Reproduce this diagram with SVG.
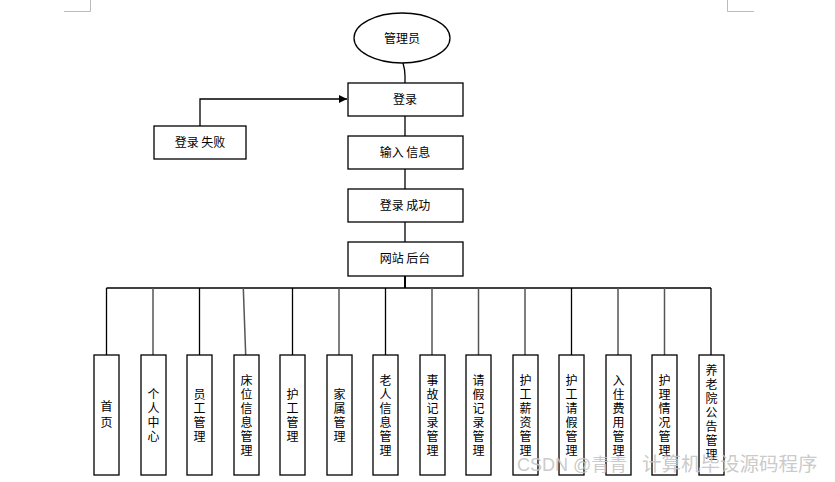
<svg xmlns="http://www.w3.org/2000/svg" width="835" height="482" viewBox="0 0 835 482">
<defs>
<style>
.n{fill:#fff;stroke:#000;stroke-width:1.3}
.t{font-family:"Noto Sans CJK SC","Liberation Sans",sans-serif;font-size:12px;fill:#000;text-anchor:middle}
.v{font-family:"Noto Sans CJK SC","Liberation Sans",sans-serif;font-size:12px;fill:#000;text-anchor:middle;writing-mode:vertical-rl;letter-spacing:2px}
.c{fill:none;stroke:#000;stroke-width:1.3}
.g{fill:none;stroke:#555;stroke-width:1.5}
.m{fill:none;stroke:#bbb;stroke-width:1}
</style>
<marker id="arr" viewBox="0 0 10 10" refX="10" refY="5" markerWidth="8" markerHeight="8" markerUnits="userSpaceOnUse" orient="auto">
<path d="M0,0 L10,5 L0,10 z" fill="#000"/>
</marker>
</defs>
<rect width="835" height="482" fill="#fff"/>
<path class="m" d="M64,11.5 H90.5 V0 M727.5,0 V11.5 H754"/>
<g id="connectors">
<path class="c" d="M403,63 Q405,70 405,76 V83"/>
<path class="c" d="M200,126 V99 H347" marker-end="url(#arr)"/>
<path class="c" d="M405,116 V136"/>
<path class="c" d="M405,169 V189"/>
<path class="c" d="M405,222 V242"/>
<path class="c" d="M405,276 V288" style="stroke-width:2"/>
<path class="c" d="M106.5,288 H711"/>
<path class="c" d="M106.5,288 V355"/>
<path class="g" d="M153,288 V355"/>
<path class="c" d="M199.5,288 V355"/>
<path class="g" d="M243.3,288 L245.7,355"/>
<path class="c" d="M292.5,288 V355"/>
<path class="g" d="M339,288 V355"/>
<path class="c" d="M385.5,288 V355"/>
<path class="g" d="M432,288 V355"/>
<path class="g" d="M478.5,288 V355"/>
<path class="g" d="M525,288 V355"/>
<path class="c" d="M571.5,288 V355"/>
<path class="g" d="M618,288 V355"/>
<path class="g" d="M664.5,288 V355"/>
<path class="c" d="M711,288 V355"/>
</g>
<g id="admin"><ellipse class="n" cx="402" cy="38" rx="48" ry="25"/><text class="t" x="402" y="43">管理员</text></g>
<g id="login"><rect class="n" x="348" y="83" width="115" height="33"/><text class="t" x="405" y="104">登录</text></g>
<g id="loginFail"><rect class="n" x="154" y="126" width="92" height="33"/><text class="t" x="200" y="147">登录 失败</text></g>
<g id="input"><rect class="n" x="348" y="136" width="115" height="33"/><text class="t" x="405" y="157">输入 信息</text></g>
<g id="loginOk"><rect class="n" x="348" y="189" width="115" height="33"/><text class="t" x="405" y="210">登录 成功</text></g>
<g id="backend"><rect class="n" x="348" y="242" width="115" height="34"/><text class="t" x="405" y="263">网站 后台</text></g>
<g id="leaf1"><rect class="n" x="94" y="355" width="25" height="120"/><text class="v" x="106.5" y="416" style="letter-spacing:4px">首页</text></g>
<g id="leaf2"><rect class="n" x="141" y="355" width="25" height="120"/><text class="v" x="153.5" y="416">个人中心</text></g>
<g id="leaf3"><rect class="n" x="187" y="355" width="25" height="120"/><text class="v" x="199.5" y="416">员工管理</text></g>
<g id="leaf4"><rect class="n" x="234" y="355" width="25" height="120"/><text class="v" x="246.5" y="416">床位信息管理</text></g>
<g id="leaf5"><rect class="n" x="280" y="355" width="25" height="120"/><text class="v" x="292.5" y="416">护工管理</text></g>
<g id="leaf6"><rect class="n" x="327" y="355" width="25" height="120"/><text class="v" x="339.5" y="416">家属管理</text></g>
<g id="leaf7"><rect class="n" x="373" y="355" width="25" height="120"/><text class="v" x="385.5" y="416">老人信息管理</text></g>
<g id="leaf8"><rect class="n" x="420" y="355" width="25" height="120"/><text class="v" x="432.5" y="416">事故记录管理</text></g>
<g id="leaf9"><rect class="n" x="466" y="355" width="25" height="120"/><text class="v" x="478.5" y="416">请假记录管理</text></g>
<g id="leaf10"><rect class="n" x="513" y="355" width="25" height="120"/><text class="v" x="525.5" y="416">护工薪资管理</text></g>
<g id="leaf11"><rect class="n" x="559" y="355" width="25" height="120"/><text class="v" x="571.5" y="416">护工请假管理</text></g>
<g id="leaf12"><rect class="n" x="606" y="355" width="25" height="120"/><text class="v" x="618.5" y="416">入住费用管理</text></g>
<g id="leaf13"><rect class="n" x="652" y="355" width="25" height="120"/><text class="v" x="664.5" y="416">护理情况管理</text></g>
<g id="leaf14"><rect class="n" x="699" y="355" width="25" height="120"/><text class="v" x="711.5" y="413">养老院公告管理</text></g>
<text y="471" style="font-family:'Liberation Sans','Noto Sans CJK SC',sans-serif;fill:#c4c4c4;fill-opacity:0.9"><tspan x="517" style="font-size:18px">CSDN @青青</tspan><tspan x="642" style="font-size:19.5px">计算机毕设源码程序</tspan></text>
</svg>
